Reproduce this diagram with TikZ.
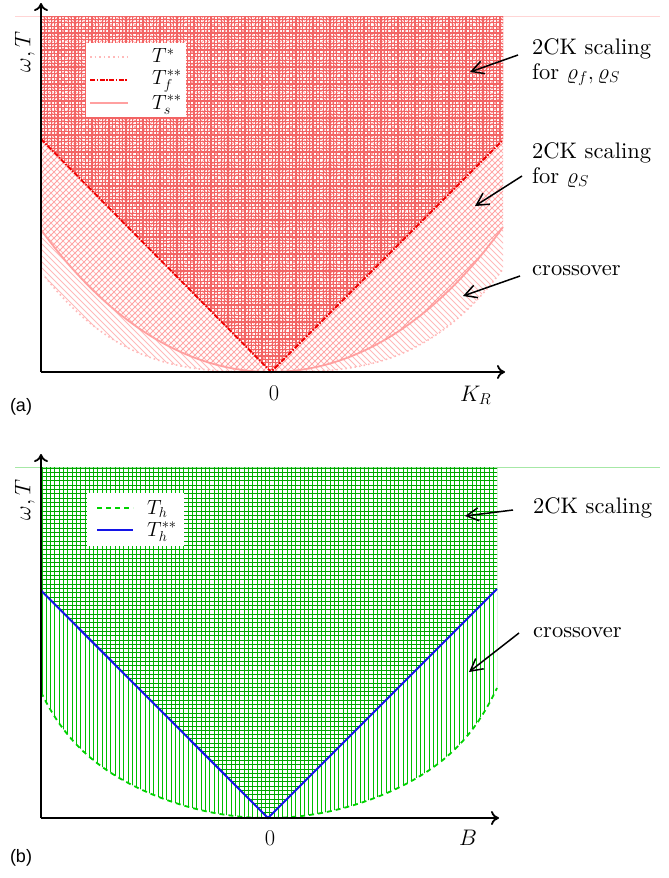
\RequirePackage{fix-cm}
\documentclass[tikz,border=0pt]{standalone}
\usepackage{fontspec}
\setmainfont{lmroman10-regular.otf}[BoldFont=lmroman10-bold.otf, ItalicFont=lmroman10-italic.otf]
\usetikzlibrary{arrows.meta}
\newfontfamily\panelfont{Liberation Sans}
\definecolor{gridred}{RGB}{242,100,100}
\definecolor{crosspink}{RGB}{255,160,160}
\definecolor{nwpink}{RGB}{255,185,185}
\definecolor{tstarcol}{RGB}{255,185,185}
\definecolor{tscol}{RGB}{255,160,160}
\definecolor{tfcol}{RGB}{240,0,0}
\definecolor{gridgreen}{RGB}{0,160,0}
\definecolor{vgreen}{RGB}{0,190,0}
\definecolor{thcol}{RGB}{0,210,0}
\definecolor{blueline}{RGB}{20,20,230}
\tikzset{
  lab/.style={font=\fontsize{22.5}{25}\selectfont, inner sep=0pt},
  leglab/.style={font=\fontsize{20.5}{23}\selectfont, inner sep=0pt},
  axisline/.style={line width=1.8pt, -{To[length=8pt,width=14pt]}},
  callout/.style={line width=1.5pt, -{Straight Barb[length=12pt,width=13pt]}},
  hatchgrid/.style={gridred, line width=1.1pt},
  hatchcross/.style={crosspink, line width=0.9pt},
  hatchnw/.style={nwpink, line width=0.9pt},
  tstarline/.style={tstarcol, line width=1.6pt, dash pattern=on 1.6pt off 3pt},
  tfline/.style={tfcol, line width=1.8pt, dash pattern=on 5pt off 1.5pt on 1.5pt off 1.5pt},
  tsline/.style={tscol, line width=1.8pt},
  vhatch/.style={vgreen, line width=1pt},
  hhatch/.style={gridgreen, line width=1pt},
  thline/.style={thcol, line width=1.8pt, dash pattern=on 5pt off 4pt},
  bline/.style={blueline, line width=2pt},
  legendbox/.style={fill=white, inner sep=0pt},
  paneltag/.style={font=\panelfont\fontsize{18}{20}\selectfont, inner sep=0pt},
}
\begin{document}
\begin{tikzpicture}[x=1pt,y=-1pt,
  declare function={
    ua(\x)=abs(\x-271)/232;
    tstar(\x)=372-103*ua(\x)^3;
    tss(\x)=372-(130*ua(\x)^2+15*ua(\x)^4);
    ub(\x)=abs(\x-268)/229;
    th(\x)=818-(92*ub(\x)^2+38*ub(\x)^8);
  }]
\useasboundingbox (0,0) rectangle (669,878);

% ---------------- panel (a) ----------------
\draw[nwpink!60, line width=0.8pt] (15,16) -- (660,16);
\begin{scope}
  \clip (41,16) -- (503,16) -- plot[domain=503:41,samples=120] (\x,{tstar(\x)}) -- cycle;
  \foreach \d in {-340,-334,...,500} \draw[hatchnw] (\d,0) -- (\d+400,400);
\end{scope}
\begin{scope}
  \clip (41,16) -- (503,16) -- plot[domain=503:41,samples=120] (\x,{tss(\x)}) -- cycle;
  \foreach \c in {40,46,...,900} \draw[hatchcross] (\c,0) -- (\c-400,400);
\end{scope}
\coordinate (fl) at (41,139);
\coordinate (fo) at (271,372);
\coordinate (fr) at (503,140);
\begin{scope}
  \clip (41,16) -- (503,16) -- (fr) -- (fo) -- (fl) -- cycle;
  \foreach \x in {41,44.4,...,504} \draw[hatchgrid] (\x,10) -- (\x,380);
  \foreach \y in {16,19.4,...,373} \draw[hatchgrid] (30,\y) -- (510,\y);
\end{scope}
\draw[tstarline] plot[domain=45:503,samples=120] (\x,{tstar(\x)});
\draw[tsline] plot[domain=41:503,samples=120] (\x,{tss(\x)});
\draw[tfline] (fl) -- (fo) -- (fr);

\coordinate (Oa) at (41,372);
\coordinate (Xa) at (505,372);
\coordinate (Ya) at (41,3);
\draw[axisline] (Oa) -- (Xa);
\draw[axisline] (Oa) -- (Ya);

\node[legendbox, minimum width=100pt, minimum height=74pt] (lga) at (136,80) {};
\draw[tstarline] (90,57) -- (128,57);
\draw[tfline] (90,80) -- (128,80);
\draw[tsline] (90,103) -- (128,103);
\node[leglab, anchor=base west] (lga1) at (152,62.5) {$T^*$};
\node[leglab, anchor=base west] (lga2) at (152,84) {$T_f^{**}$};
\node[leglab, anchor=base west] (lga3) at (152,109) {$T_s^{**}$};

\node[lab, rotate=90] (ya) at (25,52) {$\omega, T$};
\node[lab, anchor=base] (za) at (274,400.5) {$0$};
\node[lab, anchor=base west] (kr) at (460,401) {$K_R$};
\node[paneltag] (pa) at (21,407) {(a)};

\node[lab, anchor=base west] (s1a) at (532,54) {2CK scaling};
\node[lab, anchor=base west] (s1b) at (532,79) {for $\varrho_f,\varrho_S$};
\node[lab, anchor=base west] (s2a) at (532,158) {2CK scaling};
\node[lab, anchor=base west] (s2b) at (532,183) {for $\varrho_S$};
\node[lab, anchor=base west] (s3) at (532,275) {crossover};
\coordinate (f1) at (518,55);  \coordinate (t1) at (470,72);
\coordinate (f2) at (522,176); \coordinate (t2) at (475,206);
\coordinate (f3) at (520,276); \coordinate (t3) at (463,296);
\draw[callout] (f1) -- (t1);
\draw[callout] (f2) -- (t2);
\draw[callout] (f3) -- (t3);

% ---------------- panel (b) ----------------
\draw[vgreen!35, line width=0.8pt] (15,467) -- (660,467);
\begin{scope}
  \clip (41,467) -- (497,467) -- plot[domain=497:41,samples=120] (\x,{th(\x)}) -- cycle;
  \foreach \x in {42,46.3,...,498} \draw[vhatch] (\x,460) -- (\x,820);
\end{scope}
\coordinate (bl) at (41,590.5);
\coordinate (bo) at (268,818);
\coordinate (br) at (497,589);
\begin{scope}
  \clip (41,467) -- (497,467) -- (br) -- (bo) -- (bl) -- cycle;
  \foreach \y in {468,472.3,...,818} \draw[hhatch] (30,\y) -- (510,\y);
\end{scope}
\draw[thline] plot[domain=41:497,samples=120] (\x,{th(\x)});
\draw[bline] (bl) -- (bo) -- (br);

\coordinate (Ob) at (41,818);
\coordinate (Xb) at (499,818);
\coordinate (Yb) at (41,454);
\draw[axisline] (Ob) -- (Xb);
\draw[axisline] (Ob) -- (Yb);

\node[legendbox, minimum width=97pt, minimum height=53pt] (lgb) at (135.5,519.5) {};
\draw[thline] (97,508) -- (133,508);
\draw[bline] (97,530) -- (133,530);
\node[leglab, anchor=base west] (lgb1) at (147,514) {$T_h$};
\node[leglab, anchor=base west] (lgb2) at (147,536) {$T_h^{**}$};

\node[lab, rotate=90] (yb) at (25,500) {$\omega, T$};
\node[lab, anchor=base] (zb) at (270,845) {$0$};
\node[lab, anchor=base west] (bb) at (459,845) {$B$};
\node[paneltag] (pb) at (21,858) {(b)};

\node[lab, anchor=base west] (s4) at (533,513) {2CK scaling};
\node[lab, anchor=base west] (s5) at (533,637) {crossover};
\coordinate (f4) at (513,510); \coordinate (t4) at (465,516);
\coordinate (f5) at (519,633); \coordinate (t5) at (469,672);
\draw[callout] (f4) -- (t4);
\draw[callout] (f5) -- (t5);
\end{tikzpicture}
\end{document}
